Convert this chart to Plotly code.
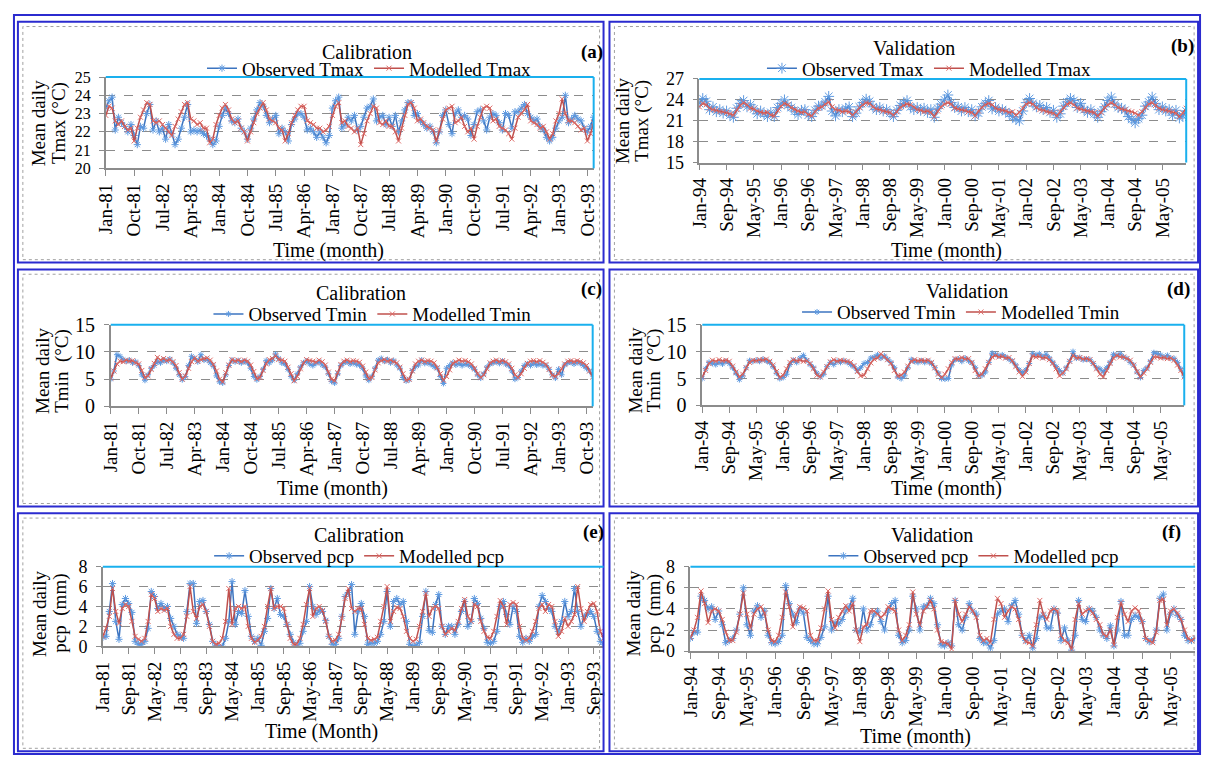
import plotly.graph_objects as go

W, H = 1207, 769
FONT = "Liberation Serif"
BLUE = "#3c74c0"
BLUE_M = "#5f9ae0"
RED = "#c0504d"
RED_M = "#dd6a66"
GRID = "#8c8c8c"
CYAN = "#1ab0ee"
FRAME = "#2b2bcf"

MONTHS = ["Jan", "Feb", "Mar", "Apr", "May", "Jun", "Jul", "Aug", "Sep", "Oct", "Nov", "Dec"]
cal_years = list(range(1981, 1994))
val_years = list(range(1994, 2006))
cal_months = [f"{m}-{str(y)[2:]}" for y in cal_years for m in MONTHS]
val_months = [f"{m}-{str(y)[2:]}" for y in val_years for m in MONTHS]

cal_ticks9 = ["Jan-81", "Oct-81", "Jul-82", "Apr-83", "Jan-84", "Oct-84", "Jul-85", "Apr-86", "Jan-87",
              "Oct-87", "Jul-88", "Apr-89", "Jan-90", "Oct-90", "Jul-91", "Apr-92", "Jan-93", "Oct-93"]
val_ticks8 = ["Jan-94", "Sep-94", "May-95", "Jan-96", "Sep-96", "May-97", "Jan-98", "Sep-98", "May-99",
              "Jan-00", "Sep-00", "May-01", "Jan-02", "Sep-02", "May-03", "Jan-04", "Sep-04", "May-05"]
cal_ticks8 = ["Jan-81", "Sep-81", "May-82", "Jan-83", "Sep-83", "May-84", "Jan-85", "Sep-85", "May-86",
              "Jan-87", "Sep-87", "May-88", "Jan-89", "Sep-89", "May-90", "Jan-91", "Sep-91", "May-92",
              "Jan-93", "Sep-93"]

# ---------------- (a) Calibration Tmax 1981-1993 ----------------
cal_tmax_obs = [
    23.3, 23.7, 23.9, 22.1, 22.8, 22.5, 22.3, 22.0, 22.4, 21.8, 21.3, 22.3,
    22.2, 23.0, 23.5, 22.1, 22.6, 22.0, 22.2, 21.6, 22.4, 21.9, 21.3, 21.6,
    22.2, 22.8, 23.5, 22.0, 22.1, 22.0, 22.1, 21.9, 21.8, 21.6, 21.3, 21.5,
    22.3, 22.9, 23.3, 23.0, 22.6, 22.5, 22.7, 22.2, 22.0, 21.6, 22.2, 22.7,
    23.2, 23.6, 23.4, 22.9, 22.5, 22.7, 22.9, 21.9, 22.2, 22.0, 21.5, 22.4,
    22.7, 23.0, 23.0, 22.8, 22.1, 22.2, 22.0, 21.7, 22.0, 21.7, 21.4, 21.8,
    23.3, 23.7, 23.9, 22.2, 22.4, 22.8, 22.6, 22.9, 22.1, 22.3, 22.8, 23.3,
    23.4, 23.8, 22.6, 22.8, 22.9, 22.4, 22.8, 22.3, 22.9, 22.0, 22.6, 23.2,
    23.6, 23.6, 22.9, 23.0, 22.6, 22.4, 22.2, 22.3, 22.0, 21.4, 22.0, 22.9,
    23.2, 22.4, 21.9, 23.0, 23.2, 22.8, 22.9, 22.7, 21.8, 22.4, 23.1, 23.2,
    22.6, 22.1, 22.8, 23.0, 22.9, 22.5, 22.1, 23.0, 22.9, 22.2, 23.1, 23.1,
    23.3, 23.5, 23.0, 22.8, 22.6, 22.7, 22.3, 22.1, 21.7, 21.5, 21.7, 22.2,
    22.6, 22.8, 24.0, 22.5, 22.7, 22.9, 22.7, 22.6, 22.2, 22.0, 22.3, 22.8,
]
cal_tmax_mod = [
    22.9, 23.4, 23.3, 22.6, 22.4, 22.6, 22.3, 22.1, 22.2, 21.5, 22.2, 22.8,
    23.2, 23.6, 23.5, 22.6, 22.5, 22.6, 22.4, 22.2, 22.0, 21.8, 22.3, 22.7,
    23.1, 23.5, 23.6, 22.7, 22.6, 22.4, 22.5, 22.2, 22.2, 21.4, 21.6, 22.4,
    22.9, 23.3, 23.5, 23.2, 22.7, 22.5, 22.6, 22.2, 22.0, 21.5, 22.0, 22.5,
    23.0, 23.3, 23.6, 23.2, 22.7, 22.6, 22.5, 22.2, 22.1, 21.5, 21.9, 22.5,
    22.9, 23.2, 23.4, 23.4, 22.6, 22.5, 22.4, 22.2, 22.2, 22.0, 22.1, 22.3,
    22.9, 23.4, 23.6, 22.5, 22.6, 22.3, 22.2, 22.0, 22.2, 21.3, 21.9, 22.6,
    23.0, 23.4, 23.3, 22.5, 22.4, 22.6, 22.3, 22.3, 22.0, 21.5, 22.2, 22.9,
    23.5, 23.6, 23.3, 22.6, 22.7, 22.5, 22.3, 22.2, 22.1, 21.5, 22.1, 22.7,
    23.2, 23.3, 23.4, 22.5, 22.6, 22.8, 22.3, 22.0, 22.2, 21.6, 22.3, 22.8,
    23.3, 23.4, 23.3, 22.6, 22.7, 22.3, 22.2, 22.1, 21.9, 21.6, 22.2, 22.8,
    23.0, 23.2, 23.5, 22.6, 22.5, 22.4, 22.2, 22.3, 22.0, 21.6, 21.9, 22.6,
    23.0, 23.8, 23.0, 22.6, 22.6, 22.5, 22.3, 22.1, 22.2, 21.5, 21.9, 22.5,
]

# ---------------- (b) Validation Tmax 1994-2005 ----------------
val_tmax_obs = [
    23.5, 24.2, 23.8, 22.6, 23.0, 22.3, 22.6, 22.1, 22.4, 21.8, 21.5, 22.8,
    23.5, 23.9, 23.0, 23.3, 22.7, 22.0, 22.4, 22.0, 21.6, 22.2, 21.6, 22.9,
    23.5, 24.0, 23.2, 22.9, 22.4, 21.9, 22.5, 22.6, 21.8, 21.6, 22.5, 23.1,
    23.2, 23.7, 24.5, 22.4, 21.7, 22.6, 22.3, 22.8, 23.0, 21.6, 22.1, 23.0,
    23.6, 24.1, 23.8, 23.0, 22.6, 22.9, 22.4, 22.6, 22.1, 21.6, 22.5, 23.2,
    23.5, 23.9, 23.0, 22.6, 22.9, 22.5, 22.8, 22.2, 22.6, 21.5, 22.8, 23.4,
    24.0, 24.7, 23.6, 22.9, 23.0, 22.4, 22.9, 22.3, 22.6, 21.7, 22.1, 23.0,
    23.5, 23.9, 22.7, 22.9, 22.4, 22.6, 22.3, 22.0, 21.6, 21.2, 21.0, 22.4,
    23.6, 24.2, 23.5, 23.0, 23.2, 22.6, 22.9, 22.2, 22.5, 21.5, 22.0, 23.1,
    23.7, 24.2, 23.9, 22.9, 23.5, 22.6, 22.2, 22.6, 22.0, 21.5, 22.3, 23.0,
    23.9, 24.4, 23.4, 22.9, 22.8, 22.5, 21.6, 21.2, 20.7, 21.3, 21.8, 23.1,
    23.7, 24.4, 23.5, 22.6, 23.0, 22.4, 22.6, 21.8, 22.5, 21.4, 21.7, 22.4,
]
val_tmax_mod = [
    23.0, 23.5, 23.3, 22.8, 22.6, 22.5, 22.3, 22.3, 22.2, 22.0, 21.8, 22.6,
    23.2, 23.6, 23.3, 22.8, 22.7, 22.4, 22.2, 22.1, 22.2, 21.8, 21.7, 22.5,
    23.1, 23.5, 23.3, 22.9, 22.6, 22.4, 22.2, 22.3, 21.9, 21.7, 22.3, 22.8,
    23.0, 23.4, 23.7, 23.0, 22.6, 22.5, 22.3, 22.4, 22.3, 21.8, 22.3, 22.9,
    23.3, 23.6, 23.5, 23.0, 22.7, 22.6, 22.4, 22.3, 22.2, 21.8, 22.3, 22.9,
    23.2, 23.4, 23.3, 22.9, 22.6, 22.5, 22.3, 22.4, 22.2, 21.6, 22.4, 23.0,
    23.4, 23.6, 23.4, 22.8, 22.7, 22.6, 22.5, 22.3, 22.2, 21.7, 22.4, 22.9,
    23.3, 23.5, 23.3, 22.8, 22.6, 22.5, 22.4, 22.2, 22.3, 21.8, 22.2, 22.8,
    23.4, 23.6, 23.4, 22.9, 22.6, 22.5, 22.3, 22.2, 22.1, 21.7, 22.3, 22.9,
    23.4, 23.6, 23.3, 22.8, 22.7, 22.5, 22.4, 22.3, 22.2, 21.7, 22.2, 22.9,
    23.3, 23.6, 23.3, 22.9, 22.7, 22.6, 22.4, 22.3, 22.1, 21.8, 22.3, 22.9,
    23.4, 23.6, 23.2, 22.8, 22.6, 22.5, 22.4, 22.3, 22.1, 21.6, 22.1, 22.8,
]

# ---------------- (c) Calibration Tmin 1981-1993 ----------------
cal_tmin_obs = [
    5.0, 6.5, 9.5, 9.2, 8.6, 8.3, 8.5, 8.0, 8.2, 7.5, 5.8, 4.8,
    5.8, 7.0, 7.5, 8.2, 8.0, 8.5, 8.3, 8.7, 8.0, 7.0, 5.8, 4.9,
    5.5, 7.5, 9.2, 8.8, 8.2, 9.5, 8.5, 8.6, 8.0, 7.4, 5.6, 4.5,
    4.3, 5.8, 7.5, 8.5, 8.2, 8.4, 8.0, 8.3, 8.0, 7.0, 5.5, 4.9,
    5.5, 6.8, 8.4, 8.0, 8.5, 9.6, 8.8, 8.0, 7.8, 6.8, 5.5, 4.8,
    6.0, 7.2, 8.0, 8.3, 7.8, 7.5, 7.9, 8.2, 7.6, 7.2, 6.0, 4.6,
    4.3, 6.0, 7.5, 8.0, 8.2, 7.8, 8.0, 7.7, 7.6, 7.0, 5.6, 4.8,
    5.5, 7.0, 8.5, 8.8, 8.3, 8.6, 8.0, 8.4, 7.6, 7.0, 5.3, 4.7,
    4.9, 6.6, 7.3, 7.6, 8.5, 7.9, 8.0, 7.7, 7.3, 7.0, 5.5, 4.2,
    7.0, 7.5, 8.0, 7.6, 7.9, 7.5, 7.8, 7.6, 7.3, 6.8, 5.8, 5.2,
    6.0, 7.2, 7.8, 8.0, 8.2, 7.9, 8.3, 7.8, 7.5, 6.5, 5.0, 5.3,
    6.5, 7.5, 7.8, 7.5, 7.9, 7.6, 7.8, 7.5, 7.5, 6.8, 5.8, 5.2,
    6.8, 5.8, 7.6, 8.0, 8.1, 7.8, 8.1, 7.9, 7.5, 7.0, 6.5, 5.8,
]
cal_tmin_mod = [
    5.2, 6.5, 7.8, 8.3, 8.2, 8.5, 8.3, 8.4, 8.0, 7.8, 6.6, 5.3,
    5.6, 6.8, 7.9, 9.0, 8.5, 8.8, 8.4, 8.6, 8.2, 7.5, 6.2, 5.0,
    5.6, 7.0, 8.2, 8.9, 8.3, 8.6, 8.8, 8.9, 8.5, 7.7, 6.5, 5.0,
    4.5, 6.2, 7.6, 8.6, 8.3, 8.5, 8.2, 8.5, 8.3, 7.6, 6.4, 5.1,
    5.3, 6.6, 7.8, 8.6, 8.8, 9.3, 8.6, 8.5, 8.3, 7.2, 6.0, 4.7,
    5.5, 6.9, 8.0, 8.6, 8.4, 8.3, 8.1, 8.5, 8.2, 7.6, 6.3, 5.0,
    4.7, 6.2, 7.7, 8.3, 8.5, 8.2, 8.4, 8.3, 8.1, 7.4, 6.3, 5.1,
    5.3, 6.7, 8.0, 8.4, 8.6, 8.3, 8.5, 8.2, 8.0, 7.2, 6.0, 4.8,
    5.0, 6.5, 7.8, 8.3, 8.5, 8.2, 8.4, 8.3, 8.0, 7.1, 6.0, 4.8,
    5.5, 6.7, 7.9, 8.2, 8.5, 8.3, 8.4, 8.2, 7.8, 7.0, 6.0, 5.3,
    5.8, 6.9, 8.0, 8.3, 8.5, 8.2, 8.4, 8.2, 7.8, 7.0, 5.8, 5.3,
    6.0, 7.0, 7.9, 8.3, 8.4, 8.2, 8.4, 8.1, 7.7, 6.8, 5.7, 5.5,
    6.0, 6.9, 7.8, 8.3, 8.4, 8.2, 8.4, 8.2, 8.0, 7.5, 6.5, 5.4,
]

# ---------------- (d) Validation Tmin 1994-2005 ----------------
val_tmin_obs = [
    5.0, 6.8, 8.0, 7.8, 7.6, 8.0, 7.7, 8.2, 7.8, 7.0, 6.0, 4.8,
    5.5, 7.0, 8.3, 8.2, 8.4, 8.2, 8.6, 8.3, 8.0, 7.2, 6.0, 5.0,
    5.2, 5.8, 7.6, 8.4, 8.0, 8.8, 9.3, 8.4, 7.6, 7.0, 6.0, 5.3,
    5.8, 7.2, 8.0, 7.6, 8.2, 8.0, 8.3, 8.0, 7.6, 7.2, 6.5, 7.0,
    7.8, 8.0, 8.8, 9.0, 9.4, 8.8, 9.2, 8.6, 8.0, 7.0, 5.3, 5.0,
    5.5, 7.0, 8.5, 8.2, 8.0, 8.3, 8.0, 8.2, 7.8, 7.0, 6.0, 5.0,
    4.9, 5.0, 7.5, 8.5, 8.6, 8.2, 8.8, 8.3, 7.9, 7.0, 5.6, 5.6,
    6.2, 8.0, 9.7, 9.5, 9.2, 9.4, 9.0, 8.6, 8.2, 7.5, 6.6, 6.0,
    6.6, 7.8, 9.6, 9.4, 9.6, 9.0, 9.5, 8.8, 8.0, 7.2, 6.5, 6.0,
    7.0, 8.2, 10.0, 8.8, 8.9, 8.5, 8.6, 8.5, 7.8, 7.0, 6.8, 6.2,
    7.0, 8.0, 9.5, 9.3, 9.6, 9.0, 8.7, 8.0, 7.5, 6.2, 5.2, 6.5,
    7.0, 8.2, 9.8, 9.6, 9.4, 9.0, 9.3, 8.8, 8.7, 8.0, 6.8, 5.5,
]
val_tmin_mod = [
    5.3, 6.5, 7.8, 8.4, 8.2, 8.5, 8.3, 8.4, 8.2, 7.3, 6.2, 5.3,
    5.8, 7.0, 8.0, 8.4, 8.3, 8.5, 8.4, 8.6, 8.2, 7.5, 6.3, 5.2,
    5.6, 6.8, 8.0, 8.5, 8.3, 8.4, 8.2, 8.3, 7.8, 6.8, 5.6, 5.3,
    6.2, 7.2, 8.1, 8.5, 8.2, 8.4, 8.3, 8.2, 8.0, 7.4, 6.3, 5.5,
    5.6, 6.8, 7.9, 8.6, 8.8, 9.6, 9.0, 8.5, 7.8, 6.5, 5.5, 5.6,
    6.2, 7.3, 8.2, 8.5, 8.3, 8.4, 8.3, 8.4, 8.0, 7.0, 5.8, 5.2,
    5.8, 6.8, 8.0, 8.7, 8.6, 8.9, 8.6, 8.7, 8.0, 6.5, 5.5, 5.8,
    6.8, 8.0, 9.0, 9.3, 9.0, 9.1, 8.8, 8.9, 8.3, 7.2, 6.2, 5.4,
    6.2, 7.8, 9.2, 9.0, 9.1, 8.8, 8.9, 8.5, 7.8, 6.8, 5.5, 6.0,
    6.8, 8.2, 9.3, 8.8, 8.9, 8.6, 8.7, 8.5, 7.8, 6.8, 5.8, 5.3,
    6.5, 7.8, 8.8, 9.3, 9.0, 9.0, 8.7, 8.4, 7.5, 6.3, 5.3, 6.0,
    6.8, 8.0, 9.0, 9.0, 8.8, 8.9, 8.7, 8.8, 8.4, 7.5, 6.5, 5.3,
]

# ---------------- (e) Calibration pcp 1981-1993 ----------------
cal_pcp_obs = [
    0.9, 1.0, 3.5, 6.3, 2.5, 0.7, 4.2, 4.8, 4.3, 3.4, 0.5, 0.2,
    0.2, 0.5, 1.8, 5.5, 5.0, 3.8, 4.3, 3.8, 4.0, 2.8, 2.0, 1.2,
    1.0, 0.8, 3.5, 6.3, 6.3, 2.3, 4.5, 4.6, 3.5, 2.2, 0.5, 0.1,
    0.0, 0.0, 0.8, 2.5, 6.5, 2.2, 3.5, 3.3, 5.6, 3.0, 1.0, 0.5,
    0.8, 0.1, 1.5, 2.8, 5.8, 3.8, 4.8, 3.2, 3.0, 2.2, 1.2, 0.4,
    0.0, 0.3, 1.5, 2.5, 6.0, 4.0, 3.2, 3.6, 3.5, 2.6, 1.0, 0.2,
    0.2, 0.8, 3.0, 5.0, 5.4, 6.2, 1.2, 3.5, 4.3, 3.0, 0.2, 0.3,
    0.3, 0.5, 1.2, 2.5, 5.5, 2.0, 4.5, 4.8, 4.2, 4.5, 2.5, 0.2,
    0.0, 0.1, 0.4, 3.0, 5.5, 1.6, 1.4, 4.2, 5.2, 2.0, 1.2, 2.0,
    2.0, 1.2, 2.2, 3.5, 4.5, 2.0, 2.5, 4.8, 4.3, 2.8, 1.8, 0.4,
    0.3, 0.5, 1.5, 4.0, 4.5, 3.2, 2.2, 4.0, 3.5, 1.0, 0.4, 0.8,
    0.5, 1.0, 1.2, 4.0, 5.1, 4.5, 3.8, 3.5, 2.0, 1.5, 2.5, 4.5,
    3.0, 3.5, 5.8, 3.5, 2.0, 3.0, 3.2, 3.5, 3.0, 1.5, 0.5, 0.2,
]
cal_pcp_mod = [
    1.0, 1.8, 3.0, 5.8, 3.5, 2.3, 3.8, 4.2, 4.0, 2.5, 1.0, 0.7,
    0.5, 0.8, 2.5, 5.2, 4.8, 3.5, 3.8, 3.6, 3.8, 2.0, 1.2, 0.8,
    0.8, 1.2, 3.0, 6.0, 3.5, 2.8, 4.0, 4.2, 3.5, 2.0, 0.5, 0.2,
    0.3, 0.8, 2.5, 5.8, 2.2, 3.8, 4.0, 3.8, 4.0, 2.0, 0.8, 0.4,
    0.6, 1.0, 2.0, 4.0, 5.8, 3.8, 4.0, 4.0, 3.8, 2.2, 0.8, 0.2,
    0.2, 0.8, 2.2, 4.2, 5.8, 3.0, 3.8, 4.0, 3.6, 2.5, 1.0, 0.5,
    0.6, 1.2, 2.8, 4.8, 5.8, 3.8, 3.5, 3.8, 3.8, 2.2, 0.8, 0.6,
    0.7, 0.9, 2.5, 4.0, 6.0, 2.5, 3.5, 3.9, 3.8, 3.0, 1.5, 0.8,
    0.5, 0.7, 2.0, 3.5, 5.3, 3.0, 3.8, 4.0, 3.8, 2.0, 1.2, 1.5,
    1.8, 1.6, 2.5, 3.8, 4.7, 3.0, 2.5, 4.2, 4.0, 2.5, 1.5, 0.9,
    0.8, 1.5, 3.0, 4.6, 4.0, 2.2, 4.2, 4.4, 4.2, 2.0, 0.8, 0.6,
    0.8, 1.5, 2.5, 3.8, 4.2, 3.5, 4.2, 4.0, 2.5, 1.0, 1.5, 2.8,
    2.0, 2.5, 3.2, 6.0, 3.8, 2.5, 3.5, 4.2, 4.3, 3.5, 1.5, 0.8,
]

# ---------------- (f) Validation pcp 1994-2005 ----------------
val_pcp_obs = [
    1.2, 1.8, 1.8, 5.2, 4.8, 4.0, 4.2, 3.0, 3.8, 2.5, 0.8, 1.0,
    1.2, 2.0, 3.5, 6.0, 2.5, 1.5, 3.8, 4.3, 3.2, 3.8, 1.5, 0.8,
    0.7, 0.9, 1.5, 6.2, 4.5, 3.5, 2.7, 4.0, 3.6, 1.3, 1.0, 0.7,
    0.7, 1.3, 2.3, 5.2, 2.0, 2.7, 2.6, 3.0, 3.8, 4.2, 5.0, 2.0,
    1.8, 4.0, 2.0, 2.5, 3.5, 3.8, 2.8, 2.0, 3.8, 4.5, 4.8, 1.5,
    0.8, 1.0, 2.0, 5.2, 4.0, 2.0, 4.2, 4.3, 5.0, 4.5, 2.5, 0.6,
    0.5, 0.8, 0.5, 4.8, 2.5, 2.0, 3.2, 4.5, 3.8, 3.5, 1.2, 0.8,
    0.8, 0.3, 1.0, 3.5, 3.8, 4.0, 2.8, 4.3, 4.8, 3.5, 1.5, 1.0,
    1.5, 0.3, 1.2, 3.2, 3.4, 2.2, 2.2, 4.0, 3.6, 1.0, 2.2, 1.0,
    0.1, 1.5, 4.8, 3.0, 2.8, 4.0, 3.8, 3.2, 2.0, 1.5, 1.2, 2.4,
    0.5, 2.0, 4.7, 1.5, 1.5, 3.0, 3.4, 3.2, 2.8, 1.2, 0.9, 1.0,
    2.0, 5.0, 5.4, 2.0, 3.5, 4.0, 3.4, 3.0, 1.5, 1.0, 1.0, 1.2,
]
val_pcp_mod = [
    1.3, 2.0, 3.2, 5.7, 4.5, 2.7, 3.8, 4.0, 3.8, 3.0, 1.8, 1.0,
    1.0, 1.8, 3.5, 5.5, 3.5, 2.2, 3.5, 4.0, 4.2, 3.6, 2.0, 1.0,
    0.9, 1.5, 3.2, 5.6, 4.2, 2.3, 3.5, 4.2, 4.1, 3.8, 1.5, 1.0,
    1.0, 2.2, 4.0, 5.7, 3.0, 2.2, 3.2, 3.8, 4.3, 3.8, 4.5, 2.0,
    0.9, 2.3, 2.5, 3.8, 3.8, 3.5, 3.2, 3.5, 4.2, 4.0, 3.8, 2.0,
    1.0, 1.5, 2.5, 5.6, 3.5, 2.5, 3.8, 4.2, 4.8, 4.0, 2.0, 0.9,
    0.8, 0.7, 0.2, 4.8, 3.5, 2.8, 3.5, 4.2, 3.8, 3.2, 1.5, 1.0,
    1.2, 0.8, 3.0, 5.0, 4.5, 3.2, 3.8, 4.2, 4.0, 3.0, 1.5, 0.9,
    0.8, 0.5, 2.5, 4.8, 3.5, 3.0, 3.8, 4.0, 3.8, 1.5, 1.0, 0.8,
    0.2, 3.0, 4.5, 3.5, 3.8, 4.0, 3.6, 3.0, 2.5, 1.6, 1.4, 2.0,
    0.6, 3.2, 4.6, 3.5, 2.8, 3.8, 4.1, 3.8, 2.8, 1.2, 1.0, 0.8,
    1.8, 4.8, 4.9, 2.5, 3.8, 4.0, 3.6, 3.0, 2.0, 1.2, 1.0, 1.3,
]

for arr in (cal_tmax_obs, cal_tmax_mod, cal_tmin_obs, cal_tmin_mod, cal_pcp_obs, cal_pcp_mod):
    assert len(arr) == len(cal_months), len(arr)
for arr in (val_tmax_obs, val_tmax_mod, val_tmin_obs, val_tmin_mod, val_pcp_obs, val_pcp_mod):
    assert len(arr) == len(val_months), len(arr)


def X(px):
    return px / W


def Y(py):
    return 1 - py / H


panels = [
    dict(cats=cal_months, obs=cal_tmax_obs, mod=cal_tmax_mod, ticks=cal_ticks9, yr=[20, 25], dt=1,
         names=("Observed Tmax", "Modelled Tmax"), title="Calibration", label="(a)",
         ytitle=("Mean daily", "Tmax (°C)"), xtitle="Time (month)",
         plot=(96, 590, 68, 162), t=(360, 42), lab=(588, 42), leg=(363, 59), yt=(28, 48, 115), xt=(322, 247),
         ms=6, right=True, yfs=16),
    dict(cats=val_months, obs=val_tmax_obs, mod=val_tmax_mod, ticks=val_ticks8, yr=[15, 27], dt=3,
         names=("Observed Tmax", "Modelled Tmax"), title="Validation", label="(b)",
         ytitle=("Mean daily", "Tmax (°C)"), xtitle="Time (month)",
         plot=(697, 1190, 70, 156), t=(914, 38), lab=(1186, 36), leg=(930, 59), yt=(619, 639, 113), xt=(947, 247),
         ms=9, right=True, yfs=18),
    dict(cats=cal_months, obs=cal_tmin_obs, mod=cal_tmin_mod, ticks=cal_ticks9, yr=[0, 15], dt=5,
         names=("Observed Tmin", "Modelled Tmin"), title="Calibration", label="(c)",
         ytitle=("Mean daily", "Tmin  (°C)"), xtitle="Time (month)",
         plot=(101, 589, 323, 407), t=(354, 290), lab=(588, 286), leg=(366, 312), yt=(32, 52, 370), xt=(326, 492),
         ms=5, right=True, yfs=20),
    dict(cats=val_months, obs=val_tmin_obs, mod=val_tmin_mod, ticks=val_ticks8, yr=[0, 15], dt=5,
         names=("Observed Tmin", "Modelled Tmin"), title="Validation", label="(d)",
         ytitle=("Mean daily", "Tmin  (°C)"), xtitle="Time (month)",
         plot=(700, 1188, 323, 406), t=(968, 288), lab=(1182, 286), leg=(962, 310), yt=(632, 652, 370), xt=(947, 492),
         ms=5, right=True, yfs=20),
    dict(cats=cal_months, obs=cal_pcp_obs, mod=cal_pcp_mod, ticks=cal_ticks8, yr=[0, 8], dt=2,
         names=("Observed pcp", "Modelled pcp"), title="Calibration", label="(e)",
         ytitle=("Mean daily", "pcp  (mm)"), xtitle="Time (Month)",
         plot=(93, 600, 572, 654), t=(352, 539), lab=(590, 536), leg=(353, 561), yt=(29, 50, 620), xt=(314, 742),
         ms=6, right=False, yfs=18),
    dict(cats=val_months, obs=val_pcp_obs, mod=val_pcp_mod, ticks=val_ticks8, yr=[0, 8], dt=2,
         names=("Observed pcp", "Modelled pcp"), title="Validation", label="(f)",
         ytitle=("Mean daily", "pcp  (mm)"), xtitle="Time (month)",
         plot=(688, 1199, 572, 659), t=(933, 539), lab=(1175, 536), leg=(975, 561), yt=(630, 651, 620), xt=(916, 747),
         ms=6, right=False, yfs=18),
]

fig = go.Figure()
layout = {}
shapes = []
annotations = []

# frames
shapes.append(dict(type="rect", xref="paper", yref="paper", x0=X(3), x1=X(1204), y0=Y(765), y1=Y(4),
                   line=dict(color=FRAME, width=2)))
rows = [(11, 259), (266, 510), (517, 762)]
cols = [(7, 600), (606, 1202)]
for (t0, b0) in rows:
    for (l0, r0) in cols:
        shapes.append(dict(type="rect", xref="paper", yref="paper", x0=X(l0), x1=X(r0), y0=Y(b0), y1=Y(t0),
                           line=dict(color=FRAME, width=2)))
        shapes.append(dict(type="rect", xref="paper", yref="paper", x0=X(l0 + 5), x1=X(r0 - 4),
                           y0=Y(b0 - 3), y1=Y(t0 + 5), line=dict(color="#a0a0a0", width=1, dash="dot")))

for i, p in enumerate(panels, start=1):
    xa = "x" if i == 1 else f"x{i}"
    ya = "y" if i == 1 else f"y{i}"
    lg = "legend" if i == 1 else f"legend{i}"
    l, r, t, b = p["plot"]
    fig.add_trace(go.Scatter(
        x=p["cats"], y=p["obs"], mode="lines+markers", name=p["names"][0],
        line=dict(color=BLUE, width=1.5),
        marker=dict(symbol="asterisk-open", size=p["ms"], color=BLUE_M, line=dict(color=BLUE_M, width=1)),
        xaxis=xa, yaxis=ya, legend=lg))
    fig.add_trace(go.Scatter(
        x=p["cats"], y=p["mod"], mode="lines+markers", name=p["names"][1],
        line=dict(color=RED, width=1.5),
        marker=dict(symbol="x-thin-open", size=5, color=RED_M, line=dict(color=RED_M, width=1)),
        xaxis=xa, yaxis=ya, legend=lg))

    layout["xaxis" if i == 1 else f"xaxis{i}"] = dict(
        domain=[X(l), X(r)], anchor=ya, type="category", categoryorder="array", categoryarray=p["cats"],
        range=[0, len(p["cats"]) - 1], tickmode="array", tickvals=p["ticks"], ticktext=p["ticks"],
        tickangle=-90, tickfont=dict(family=FONT, size=19, color="black"),
        ticks="outside", ticklen=6, tickcolor=GRID, tickwidth=1,
        showline=True, linecolor=GRID, linewidth=1.5, showgrid=False, zeroline=False, fixedrange=True)
    layout["yaxis" if i == 1 else f"yaxis{i}"] = dict(
        domain=[Y(b), Y(t)], anchor=xa, range=p["yr"], tick0=p["yr"][0], dtick=p["dt"],
        tickfont=dict(family=FONT, size=p["yfs"], color="black"), ticks="outside", ticklen=5,
        ticklabelstandoff=5,
        tickcolor=GRID, showline=True, linecolor=GRID, linewidth=1.5,
        showgrid=True, gridcolor=GRID, gridwidth=1.3, griddash="dash", zeroline=False, fixedrange=True)
    layout[lg] = dict(x=X(p["leg"][0]), y=Y(p["leg"][1]), xanchor="center", yanchor="middle",
                      orientation="h", bgcolor="rgba(0,0,0,0)", itemwidth=30, tracegroupgap=0,
                      font=dict(family=FONT, size=19, color="black"))

    # cyan plot-area border (top & right)
    xd = ("x" if i == 1 else f"x{i}") + " domain"
    yd = ("y" if i == 1 else f"y{i}") + " domain"
    shapes.append(dict(type="line", xref=xd, yref=yd, x0=0, x1=1, y0=1, y1=1, layer="above",
                       line=dict(color=CYAN, width=2)))
    if p["right"]:
        shapes.append(dict(type="line", xref=xd, yref=yd, x0=1, x1=1, y0=0, y1=1, layer="above",
                           line=dict(color=CYAN, width=2)))

    annotations.append(dict(text=p["title"], x=X(p["t"][0]), y=Y(p["t"][1]), xref="paper", yref="paper",
                            xanchor="center", yanchor="middle", showarrow=False,
                            font=dict(family=FONT, size=20, color="black")))
    annotations.append(dict(text="<b>" + p["label"] + "</b>", x=X(p["lab"][0]), y=Y(p["lab"][1]),
                            xref="paper", yref="paper", xanchor="center", yanchor="middle", showarrow=False,
                            font=dict(family=FONT, size=19, color="black")))
    for k in range(2):
        annotations.append(dict(text=p["ytitle"][k], x=X(p["yt"][k]), y=Y(p["yt"][2]),
                                xref="paper", yref="paper", xanchor="center", yanchor="middle",
                                showarrow=False, textangle=-90,
                                font=dict(family=FONT, size=19, color="black")))
    annotations.append(dict(text=p["xtitle"], x=X(p["xt"][0]), y=Y(p["xt"][1]), xref="paper", yref="paper",
                            xanchor="center", yanchor="middle", showarrow=False,
                            font=dict(family=FONT, size=20, color="black")))

fig.update_layout(
    width=W, height=H, margin=dict(l=0, r=0, t=0, b=0),
    paper_bgcolor="white", plot_bgcolor="white",
    shapes=shapes, annotations=annotations, showlegend=True, **layout)

fig.write_html("out.html")
